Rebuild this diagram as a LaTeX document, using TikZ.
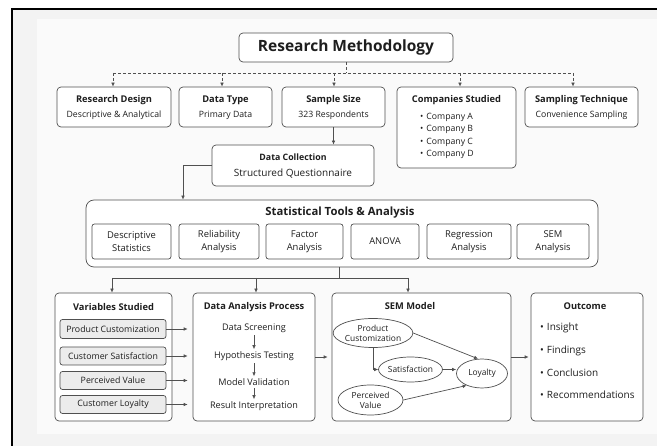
\documentclass[tikz,border=0pt]{standalone}
\usepackage{fontspec}
\setmainfont{Open Sans}
\usetikzlibrary{arrows.meta,shapes.geometric,calc}
\definecolor{linec}{HTML}{505050}
\definecolor{txt}{HTML}{1E1E1E}
\definecolor{bgout}{HTML}{F3F3F3}
\definecolor{bgin}{HTML}{FAFAFA}
\definecolor{gfill}{HTML}{ECECEC}
\begin{document}
\begin{tikzpicture}[x=1pt,y=-1pt,
  box/.style={draw=linec, line width=0.7pt, rounded corners=4pt, fill=white, inner sep=0pt},
  ibox/.style={box, rounded corners=2.5pt},
  gbox/.style={ibox, fill=gfill},
  ell/.style={draw=linec, line width=0.7pt, ellipse, inner sep=0pt, fill=white, align=center, text=txt, font=\fontsize{8.4}{10}\selectfont},
  arr/.style={draw=linec, line width=0.7pt, -{Latex[length=4pt,width=3.6pt]}},
  dl/.style={draw=linec, line width=0.6pt, densely dashed},
  tt/.style={inner sep=0pt, text=txt, font=\bfseries\fontsize{9.3}{11}\selectfont},
  st/.style={inner sep=0pt, text=txt, font=\fontsize{8.7}{10}\selectfont},
  it/.style={inner sep=0pt, text=txt, align=center, font=\fontsize{9.4}{12.7}\selectfont},
  vt/.style={inner sep=0pt, text=txt, align=center, font=\fontsize{8.8}{10.5}\selectfont},
  pt/.style={inner sep=0pt, text=txt, align=center, font=\fontsize{9.1}{10.5}\selectfont},
]
\useasboundingbox (0,0) rectangle (657,446);
\fill[white] (0,0) rectangle (657,446);
\fill[bgout] (12,9) rectangle (657,446);
\fill[bgin] (37,19) rectangle (657,434);
\draw[black, line width=1.6pt] (12,446) -- (12,9) -- (657,9);

% Title
\node[box, minimum width=214pt, minimum height=29pt] (title) at (346,47.5) {};
\node[inner sep=0pt, text=txt, font=\bfseries\fontsize{15.5}{18}\selectfont] (titlet) at (346,47.5) {Research Methodology};

% Row 1
\node[box, minimum width=114pt, minimum height=40pt] (rd) at (114,107) {};
\node[tt] (rdt) at (114,100) {Research Design};
\node[st] (rds) at (114,115) {Descriptive \& Analytical};

\node[box, minimum width=93pt, minimum height=40pt] (dt) at (225.5,107) {};
\node[tt] (dtt) at (225.5,100) {Data Type};
\node[st] (dts) at (225.5,115) {Primary Data};

\node[box, minimum width=103pt, minimum height=40pt] (ss) at (333.5,107) {};
\node[tt] (sst) at (333.5,100) {Sample Size};
\node[st] (sss) at (333.5,115) {323 Respondents};

\node[box, minimum width=119pt, minimum height=81pt] (cs) at (456.5,127.5) {};
\node[tt] (cst) at (456.5,100) {Companies Studied};
\foreach \i/\yy in {A/117,B/129.5,C/142,D/154.5}{
  \node[st, anchor=west] (cs\i) at (420,\yy) {\textbullet\hspace{3pt}Company \i};
}

\node[box, minimum width=113pt, minimum height=40pt] (sp) at (581.5,107) {};
\node[tt] (spt) at (581.5,100) {Sampling Technique};
\node[st] (sps) at (581.5,115) {Convenience Sampling};

% dashed connectors
\coordinate (j1) at (346,73);
\draw[dl] (title.south) -- (j1);
\draw[dl] ([xshift=-1pt]rd.north |- j1) -- ([xshift=459pt]rd.north |- j1);
\draw[arr, densely dashed] ([xshift=-1pt]rd.north |- j1) -- ([xshift=-1pt]rd.north);
\draw[arr, densely dashed] ([xshift=-3.5pt]dt.north |- j1) -- ([xshift=-3.5pt]dt.north);
\draw[arr, densely dashed] ([xshift=0.5pt]ss.north |- j1) -- ([xshift=0.5pt]ss.north);
\draw[arr, densely dashed] ([xshift=3.5pt]cs.north |- j1) -- ([xshift=3.5pt]cs.north);
\draw[arr, densely dashed] ([xshift=-8.5pt]sp.north |- j1) -- ([xshift=-8.5pt]sp.north);

% Data collection
\node[box, minimum width=162pt, minimum height=41pt] (dc) at (293,165.5) {};
\node[tt, font=\bfseries\fontsize{8.8}{11}\selectfont] (dct) at (293,157) {Data Collection};
\node[st, font=\fontsize{10}{12}\selectfont] (dcs) at (293,174) {Structured Questionnaire};
\draw[arr] (ss.south) -- (ss.south |- dc.north);

% Statistical tools
\node[box, rounded corners=8pt, minimum width=512pt, minimum height=67pt] (stat) at (342,233.5) {};
\node[tt, font=\bfseries\fontsize{11.3}{13}\selectfont] (statt) at (340,213) {Statistical Tools \& Analysis};
\draw[arr] (dc.west) -| ([xshift=-159pt]stat.north);
\node[ibox, minimum width=79pt, minimum height=35pt, it] (s1) at (131.5,241.5) {Descriptive\\Statistics};
\node[ibox, minimum width=80pt, minimum height=35pt, it] (s2) at (219,241.5) {Reliability\\Analysis};
\node[ibox, minimum width=77pt, minimum height=35pt, it] (s3) at (304.5,241.5) {Factor\\Analysis};
\node[ibox, minimum width=68pt, minimum height=35pt, it] (s4) at (385,241.5) {ANOVA};
\node[ibox, minimum width=84pt, minimum height=35pt, it] (s5) at (469,241.5) {Regression\\Analysis};
\node[ibox, minimum width=72pt, minimum height=35pt, it] (s6) at (553,241.5) {SEM\\Analysis};

% bottom boxes
\node[box, minimum width=117pt, minimum height=128pt] (vs) at (113.5,357) {};
\node[box, minimum width=122pt, minimum height=128pt] (dap) at (254,357) {};
\node[box, minimum width=179pt, minimum height=128pt] (sem) at (421.5,357) {};
\node[box, minimum width=112pt, minimum height=128pt] (out) at (587,357) {};

\coordinate (j2) at (339,278);
\draw[draw=linec, line width=0.7pt] ([xshift=-3pt]stat.south) -- (j2);
\draw[draw=linec, line width=0.7pt] ([xshift=-1.5pt]vs.north |- j2) -- ([xshift=-13.5pt]sem.north |- j2);
\draw[arr] ([xshift=-1.5pt]vs.north |- j2) -- ([xshift=-1.5pt]vs.north);
\draw[arr] ([xshift=2pt]dap.north |- j2) -- ([xshift=2pt]dap.north);
\draw[arr] ([xshift=-13.5pt]sem.north |- j2) -- ([xshift=-13.5pt]sem.north);

% Variables studied
\node[tt] (vst) at (113.5,307) {Variables Studied};
\node[gbox, minimum width=106pt, minimum height=19pt, vt] (v1) at (113,329) {Product Customization};
\node[gbox, minimum width=106pt, minimum height=18pt, vt] (v2) at (113,356) {Customer Satisfaction};
\node[gbox, minimum width=106pt, minimum height=18pt, vt] (v3) at (113,380.5) {Perceived Value};
\node[gbox, minimum width=106pt, minimum height=18pt, vt] (v4) at (113,404.5) {Customer Loyalty};
\foreach \v in {v1,v2,v3,v4}{
  \draw[arr, shorten >=5pt] (\v.east) -- (\v.east -| dap.west);
}

% Data analysis process
\node[tt] (dapt) at (254,307) {Data Analysis Process};
\node[pt] (d1) at (254,328) {Data Screening};
\node[pt] (d2) at (254,356) {Hypothesis Testing};
\node[pt] (d3) at (254,382) {Model Validation};
\node[pt] (d4) at (254,406) {Result Interpretation};
\draw[arr, shorten <=2.5pt, shorten >=2pt] (d1.south) -- (d2.north);
\draw[arr, shorten <=2.5pt, shorten >=2pt] (d2.south) -- (d3.north);
\draw[arr, shorten <=2.5pt, shorten >=2pt] (d3.south) -- (d4.north);
\draw[arr, shorten >=4pt] (dap.east) -- (sem.west);

% SEM model
\node[tt] (semt) at (410,306) {SEM Model};
\node[ell, minimum width=71pt, minimum height=29pt] (pc) at (373,333) {Product\\Customization};
\node[ell, minimum width=63pt, minimum height=25pt] (sat) at (410.5,369.5) {Satisfaction};
\node[ell, minimum width=51pt, minimum height=29pt] (loy) at (482,373.5) {Loyalty};
\node[ell, minimum width=65pt, minimum height=30pt] (pv) at (370.5,400) {Perceived\\Value};
\draw[arr] (pc.east) -- (loy.105);
\draw[arr] (sat.east) -- (sat.east -| loy.west);
\draw[arr] (pv.east) -- (loy.218);
\draw[arr] (pc.south) |- (sat.west);
\draw[arr, shorten >=2pt] (sem.east) -- (out.west);

% Outcome
\node[tt] (outt) at (585,306) {Outcome};
\foreach \n/\s/\yy in {o1/Insight/328,o2/Findings/351,o3/Conclusion/373,o4/Recommendations/395}{
  \node[inner sep=0pt, text=txt, anchor=west, font=\fontsize{10}{12}\selectfont] (\n) at (540,\yy) {\textbullet\hspace{3pt}\s};
}
\end{tikzpicture}
\end{document}
